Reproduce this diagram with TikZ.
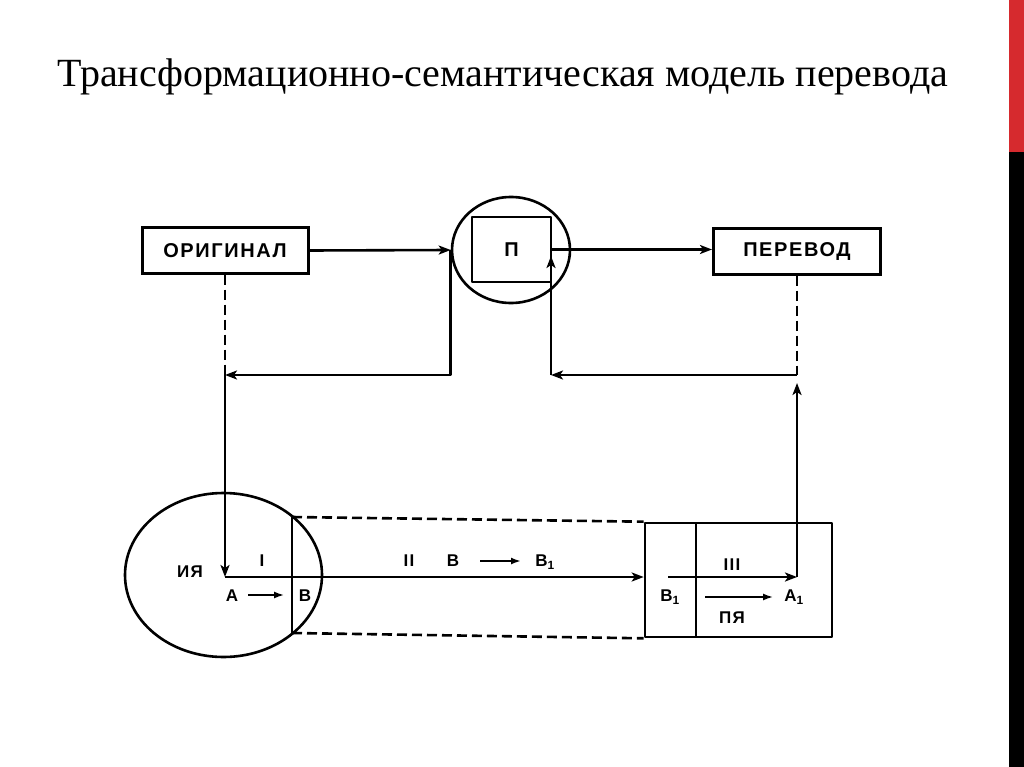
\documentclass[tikz,border=0pt]{standalone}
\usepackage{fontspec}
\usepackage{graphicx}
\setmainfont{Liberation Serif}
\newfontfamily\lblfont[LetterSpace=8]{Liberation Sans}
\usetikzlibrary{arrows.meta,shapes.geometric}
\definecolor{barred}{RGB}{214,42,46}
\begin{document}
\begin{tikzpicture}[x=1pt,y=-1pt,
  ln/.style={line width=2.6pt, line join=round},
  arr/.style={ln, -{Stealth[length=12pt,width=9pt,inset=3pt]}},
  dsh/.style={ln, dash pattern=on 10pt off 5pt},
  box/.style={draw, line width=3pt, inner sep=0pt},
  big/.style={font=\lblfont\bfseries\fontsize{20}{24}\selectfont},
  sm/.style={font=\lblfont\bfseries\fontsize{17}{20}\selectfont, inner sep=0pt},
  small arr/.style={line width=1.5pt, -{Latex[length=10pt,width=7pt]}}]
\useasboundingbox (0,0) rectangle (1024,767);
\fill[white] (0,0) rectangle (1024,767);
\fill[barred] (1009,0) rectangle (1024,152);
\fill[black] (1009,152) rectangle (1024,767);
% title
\node[anchor=base west, inner sep=0pt, font=\fontsize{40}{48}\selectfont] (title) at (57,87) {Трансформационно-семантическая модель перевода};
% top row
\node[box, big, minimum width=166, minimum height=45] (orig) at (225,250.5) {ОРИГИНАЛ};
\node[box, big, minimum width=167, minimum height=45] (perev) at (797,251.5) {ПЕРЕВОД};
\node[draw, ln, ellipse, minimum width=118, minimum height=106, inner sep=0pt] (pcirc) at (511,250) {};
\node[draw, ln, minimum width=79, minimum height=65, inner sep=0pt, big] (psq) at (511.5,249.5) {П};
% junction coordinates
\coordinate (lj) at (225,375);
\coordinate (rj) at (797,375);
\coordinate (rc) at (551,375);
\coordinate (pin) at (551,256);
\coordinate (ia) at (225,577);
\coordinate (b1mid) at (668,577);
\coordinate (a1pt) at (797,577);
\coordinate (rtip) at (797,383);
\coordinate (ct) at (292,517);
\coordinate (cb) at (292,633);
% top connectors
\draw[arr] (orig.east) -- (pcirc.west);
\draw[arr] (pcirc.west) |- (lj);
\draw[dsh] (orig.south) -- (lj);
\draw[arr] (lj) -- (ia);
\draw[arr] (psq.east) -- (perev.west |- psq.east);
\draw[dsh] (perev.south) -- (rj);
\draw[arr] (rj) -- (rc);
\draw[arr] (rc) -- (pin);
% bottom
\node[draw, ln, ellipse, minimum width=197, minimum height=164, inner sep=0pt] (iya) at (223.5,575) {};
\draw[ln] (ct) -- (cb);
\node[draw, ln, minimum width=51, minimum height=114, inner sep=0pt] (b1box) at (670.5,580) {};
\node[draw, ln, minimum width=136, minimum height=114, inner sep=0pt] (a1box) at (764,580) {};
\draw[dsh] (ct) -- (b1box.north west);
\draw[dsh] (cb) -- (b1box.south west);
\draw[arr] (ia) -- (b1box.west |- ia);
\draw[arr] (b1mid) -- (a1pt);
\draw[arr] (a1pt) -- (rtip);
% labels
\node[sm] (liya) at (190,572) {ИЯ};
\node[sm] (l1) at (262,561) {I};
\node[sm] (lA) at (232,596) {А};
\node[sm] (lB) at (305,596) {В};
\coordinate (sa1) at (248,595);
\coordinate (sa2) at (284,595);
\draw[small arr] (sa1) -- (sa2);
\node[sm] (l2) at (409,561) {II};
\node[sm] (lB2) at (453,561) {В};
\node[sm] (lB1) at (545,562) {В\textsubscript{1}};
\coordinate (sb1) at (480,561);
\coordinate (sb2) at (521,561);
\draw[small arr, line width=2.4pt] (sb1) -- (sb2);
\node[sm] (l3) at (732,565) {III};
\node[sm] (lB1b) at (670,597) {В\textsubscript{1}};
\node[sm] (lA1) at (794,597) {А\textsubscript{1}};
\node[sm] (lpya) at (732,618) {ПЯ};
\coordinate (sc1) at (705,597);
\coordinate (sc2) at (773,597);
\draw[small arr] (sc1) -- (sc2);
\end{tikzpicture}
\end{document}
